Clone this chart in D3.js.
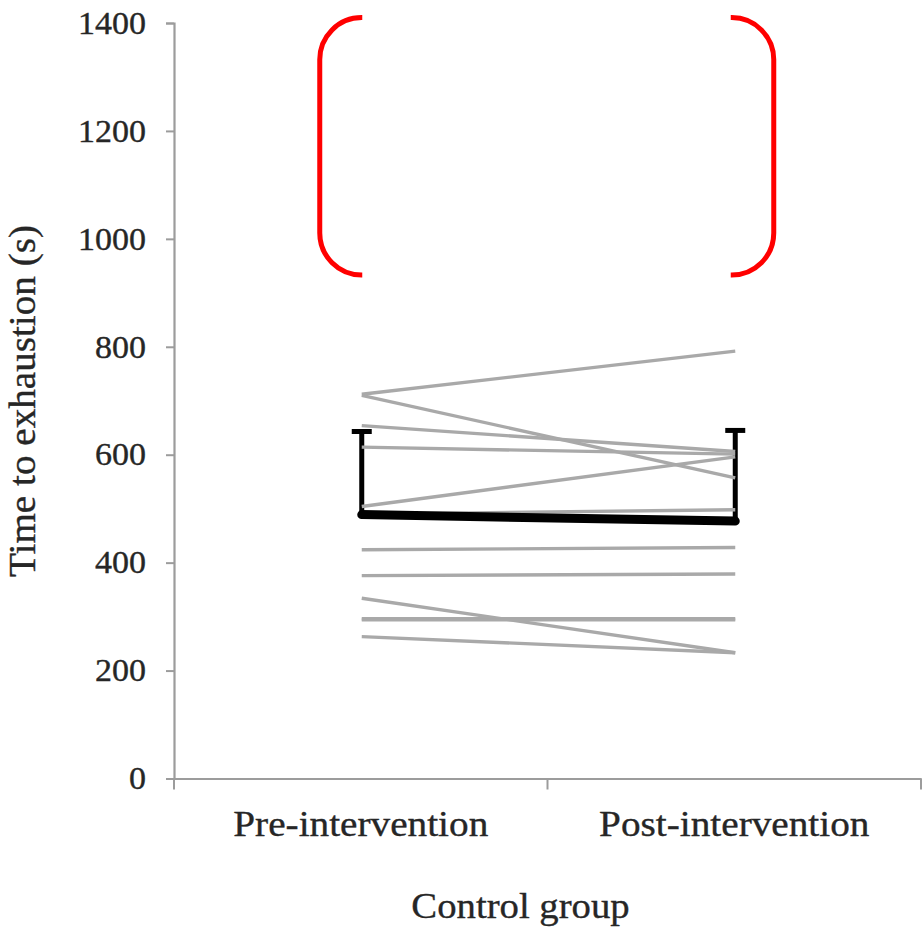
<!DOCTYPE html>
<html>
<head>
<meta charset="utf-8">
<script src="https://cdn.jsdelivr.net/npm/d3@7"></script>
<style>
  html, body { margin: 0; padding: 0; background: #fff; }
  svg { display: block; }
  text { font-family: "Liberation Serif", "Times New Roman", serif; fill: #262626; stroke: #262626; stroke-width: 0.35px; }
</style>
</head>
<body>
<svg id="chart" width="923" height="937"></svg>
<script>
// Time to exhaustion (s), control group, one entry per participant
const phases = ["Pre-intervention", "Post-intervention"];
const preValues  = [712, 710, 654, 614, 504, 490, 424, 376, 334, 296, 294, 263];
const postValues = [792, 557, 606, 601, 596, 498, 428, 379, 233, 296, 294, 233];

// Group mean and SD (upper bar only)
const groupMean = [489, 477];
const groupSD   = [154, 168];

const yTicks = [0, 200, 400, 600, 800, 1000, 1200, 1400];
const yLabel = "Time to exhaustion (s)";
const xLabel = "Control group";

// Highlighted region of the value axis (red bracket annotation)
const highlightRange = [933, 1410];

(function () {
  const svg = d3.select("#chart");

  const x = d3.scaleBand().domain(phases).range([174, 921]).padding(0);
  const y = d3.scaleLinear().domain([0, 1400]).range([778.5, 23]);
  const cx = p => x(p) + x.bandwidth() / 2 + 1;

  const axisColor = "#9c9c9c";

  // Y axis
  const yAxis = svg.append("g")
    .attr("transform", `translate(${x.range()[0]},0)`)
    .call(d3.axisLeft(y).tickValues(yTicks).tickSize(8).tickPadding(20).tickFormat(d3.format("d")));
  yAxis.select(".domain").attr("stroke", axisColor).attr("stroke-width", 2.2);
  yAxis.selectAll(".tick line").attr("stroke", axisColor).attr("stroke-width", 2);
  yAxis.selectAll(".tick text")
    .attr("font-size", 32)
    .attr("fill", "#262626")
    .attr("textLength", d => String(d).length * 17)
    .attr("lengthAdjust", "spacingAndGlyphs");

  // X axis: baseline with boundary ticks, category labels centred in bands
  const xAxis = svg.append("g")
    .attr("transform", `translate(0,${y(0)})`)
    .call(d3.axisBottom(x).tickSize(0).tickPadding(32));
  xAxis.select(".domain").attr("stroke", axisColor).attr("stroke-width", 2.2);
  const bounds = [x.range()[0]].concat(phases.map(p => x(p) + x.bandwidth()));
  xAxis.selectAll(".bound").data(bounds).join("line")
    .attr("class", "bound")
    .attr("x1", d => d).attr("x2", d => d)
    .attr("y1", 0).attr("y2", 11)
    .attr("stroke", axisColor).attr("stroke-width", 2);
  xAxis.selectAll(".tick text")
    .attr("font-size", 36)
    .attr("fill", "#262626");
  xAxis.selectAll(".tick text").each(function () {
    const w = this.getComputedTextLength();
    d3.select(this).attr("textLength", w * 1.09).attr("lengthAdjust", "spacingAndGlyphs");
  });

  // Axis titles
  const xt = svg.append("text")
    .attr("x", (x.range()[0] + x.range()[1]) / 2 - 27)
    .attr("y", 918)
    .attr("text-anchor", "middle")
    .attr("font-size", 36)
    .text(xLabel);
  xt.attr("textLength", xt.node().getComputedTextLength() * 1.075).attr("lengthAdjust", "spacingAndGlyphs");

  svg.append("text")
    .attr("transform", "translate(35,401) rotate(-90)")
    .attr("text-anchor", "middle")
    .attr("font-size", 37)
    .attr("textLength", 352)
    .attr("lengthAdjust", "spacingAndGlyphs")
    .text(yLabel);

  // Error bars (upper SD) behind the individual lines
  const capHalf = 10;
  const bars = svg.append("g").attr("stroke", "#000").attr("fill", "none");
  phases.forEach((p, i) => {
    bars.append("line")
      .attr("x1", cx(p)).attr("x2", cx(p))
      .attr("y1", y(groupMean[i])).attr("y2", y(groupMean[i] + groupSD[i]))
      .attr("stroke-width", 5);
    bars.append("line")
      .attr("x1", cx(p) - capHalf).attr("x2", cx(p) + capHalf)
      .attr("y1", y(groupMean[i] + groupSD[i])).attr("y2", y(groupMean[i] + groupSD[i]))
      .attr("stroke-width", 5);
  });

  // Individual participant lines
  const pairs = preValues.map((v, i) => [v, postValues[i]]);
  svg.append("g")
    .selectAll("line")
    .data(pairs)
    .join("line")
    .attr("x1", cx(phases[0])).attr("x2", cx(phases[1]))
    .attr("y1", d => y(d[0])).attr("y2", d => y(d[1]))
    .attr("stroke", "#a9a9a9")
    .attr("stroke-width", 3.4);

  // Group mean line
  svg.append("line")
    .attr("x1", cx(phases[0])).attr("x2", cx(phases[1]))
    .attr("y1", y(groupMean[0])).attr("y2", y(groupMean[1]))
    .attr("stroke", "#000")
    .attr("stroke-width", 9)
    .attr("stroke-linecap", "round");

  // Red bracket annotation around the upper value range
  const yTop = y(highlightRange[1]), yBot = y(highlightRange[0]);
  const r = 42;
  const lx = cx(phases[0]) - 42, lEnd = cx(phases[0]) + 0.5;
  const rx = cx(phases[1]) + 38.5, rEnd = cx(phases[1]) - 4.5;
  const bracket = svg.append("g").attr("fill", "none").attr("stroke", "#ff0000").attr("stroke-width", 5);
  bracket.append("path").attr("d",
    `M${lEnd},${yTop} L${lx + r},${yTop} A${r},${r} 0 0 0 ${lx},${yTop + r} L${lx},${yBot - r} A${r},${r} 0 0 0 ${lx + r},${yBot} L${lEnd},${yBot}`);
  bracket.append("path").attr("d",
    `M${rEnd},${yTop} L${rx - r},${yTop} A${r},${r} 0 0 1 ${rx},${yTop + r} L${rx},${yBot - r} A${r},${r} 0 0 1 ${rx - r},${yBot} L${rEnd},${yBot}`);
})();
</script>
</body>
</html>
